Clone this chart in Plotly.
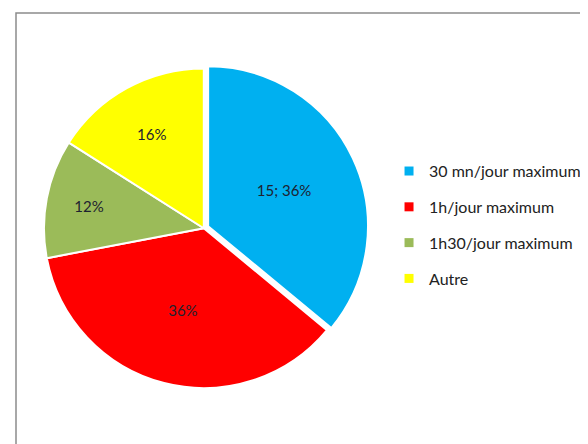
"""Pie chart: temps d'ecran par jour."""

import plotly.graph_objects as go

# Data
categories = ['30 mn/jour maximum', '1h/jour maximum', '1h30/jour maximum', 'Autre']
shares = [36, 36, 12, 16]
slice_text = ['15; 36%', '36%', '12%', '16%']

COLORS = ['#00B0F0', '#FF0000', '#9BBB59', '#FFFF00']
FONT = 'Lato, Carlito, Calibri, Arial'

fig = go.Figure()

fig.add_trace(go.Pie(
    labels=categories,
    values=shares,
    text=slice_text,
    textinfo='text',
    textposition='inside',
    insidetextorientation='horizontal',
    textfont=dict(family=FONT, size=15, color='#1e2230'),
    sort=False,
    direction='clockwise',
    rotation=0,
    pull=[0.03, 0, 0, 0],
    marker=dict(colors=COLORS, line=dict(color='white', width=2)),
    domain=dict(x=[0.053, 0.613], y=[0.124, 0.884]),
    hoverinfo='label+percent',
    showlegend=False,
))

# legend entries with small square keys, spaced like the original
for name, color in zip(categories, COLORS):
    fig.add_trace(go.Scatter(
        x=[None], y=[None], mode='markers', name=name,
        legendgroup=name,
        marker=dict(symbol='square', size=9, color=color),
    ))

# outer frame of the chart area
fig.add_shape(type='rect', xref='paper', yref='paper',
              x0=8 / 588, x1=1.02, y0=-0.02, y1=1 - 5 / 444,
              line=dict(color='#8c8c8c', width=1.5))

fig.update_layout(
    width=588, height=444,
    margin=dict(l=0, r=0, t=0, b=0),
    paper_bgcolor='white',
    plot_bgcolor='white',
    font=dict(family=FONT, color='#222222'),
    xaxis=dict(visible=False),
    yaxis=dict(visible=False),
    showlegend=True,
    legend=dict(
        x=0.648, y=0.511, xanchor='left', yanchor='middle',
        font=dict(family=FONT, size=16, color='#222222'),
        tracegroupgap=12,
        bgcolor='rgba(0,0,0,0)',
    ),
)

fig.write_html('out.html')
